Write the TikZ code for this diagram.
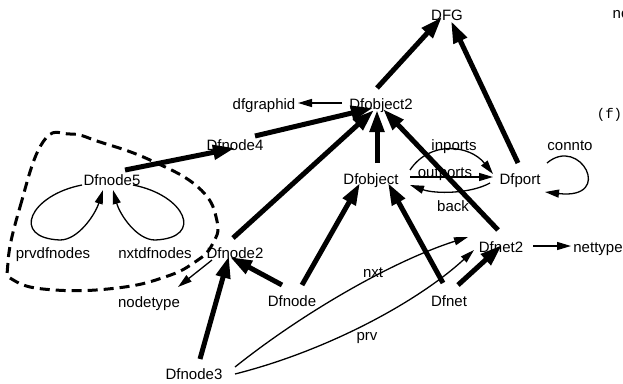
\documentclass[tikz,border=0pt]{standalone}
\usepackage{fontspec}
\setmainfont{Liberation Sans}
\setmonofont{Liberation Mono}
\usetikzlibrary{arrows.meta}
\begin{document}
\begin{tikzpicture}[x=1pt,y=-1pt,
  lbl/.style={inner sep=0pt, text height=11pt, text depth=0pt, font=\fontsize{15}{18}\selectfont},
  heavy/.style={line width=5pt, -{Triangle[length=22pt,width=14pt]}},
  light/.style={line width=1.3pt, -{Triangle[length=14pt,width=8pt]}},
  cluster/.style={line width=3pt, dash pattern=on 10pt off 6pt}]
\useasboundingbox (0,0) rectangle (623,383);

% class nodes
\node[lbl] (DFG)       at (447,15)  {DFG};
\node[lbl] (dfgraphid) at (264,104) {dfgraphid};
\node[lbl] (Dfobject2) at (381,104) {Dfobject2};
\node[lbl] (Dfnode4)   at (235,145) {Dfnode4};
\node[lbl] (Dfnode5)   at (112,180) {Dfnode5};
\node[lbl] (Dfobject)  at (371,179) {Dfobject};
\node[lbl] (Dfport)    at (520,179) {Dfport};
\node[lbl] (Dfnode2)   at (235,253) {Dfnode2};
\node[lbl] (Dfnet2)    at (501,247) {Dfnet2};
\node[lbl] (nettype)   at (598,247) {nettype};
\node[lbl] (nodetype)  at (149,302) {nodetype};
\node[lbl] (Dfnode)    at (292,301) {Dfnode};
\node[lbl] (Dfnet)     at (449,301) {Dfnet};
\node[lbl] (Dfnode3)   at (194,374) {Dfnode3};

% edge labels
\node[lbl] (lprvdf)   at (53,253)  {prvdfnodes};
\node[lbl] (lnxtdf)   at (155,253) {nxtdfnodes};
\node[lbl] (linports) at (454,145) {inports};
\node[lbl] (loutports) at (445,172) {outports};
\node[lbl] (lback)    at (453,206) {back};
\node[lbl] (lconnto)  at (570,145) {connto};
\node[lbl] (lnxt)     at (373,272) {nxt};
\node[lbl] (lprv)     at (367,335) {prv};

% text running off the right margin
\node[lbl, anchor=west] (topright) at (612.5,13) {no};
\node[inner sep=0pt, font=\ttfamily\fontsize{14}{16}\selectfont] (fig) at (609.5,115) {(f)};

% cluster outline
\draw[cluster] plot[smooth cycle, tension=0.75] coordinates {
  (8,262) (20,207) (43,142) (70,134) (100,142) (150,160) (199,188)
  (217,221) (212,245) (195,262) (165,277) (117,288) (55,290) (15,281)};

% inheritance edges
\draw[heavy] ([shift={(-4,-16)}]Dfobject2.center) -- ([shift={(-5,2)}]DFG.center);
\draw[heavy] ([shift={(-2,-16)}]Dfport.center) -- ([shift={(4,6)}]DFG.center);
\draw[heavy] ([shift={(20,-9)}]Dfnode4.center) -- ([shift={(-8,4)}]Dfobject2.center);
\draw[heavy] ([shift={(-2,-15)}]Dfnode2.center) -- ([shift={(-7,6)}]Dfobject2.center);
\draw[heavy] ([shift={(6,-16)}]Dfobject.center) -- ([shift={(-4,6)}]Dfobject2.center);
\draw[heavy] ([shift={(-3,-17)}]Dfnet2.center) -- ([shift={(2,5)}]Dfobject2.center);
\draw[heavy] ([shift={(13,-10)}]Dfnode5.center) -- ([shift={(0,3)}]Dfnode4.center);
\draw[heavy] ([shift={(6,-15)}]Dfnode3.center) -- ([shift={(-6,3)}]Dfnode2.center);
\draw[heavy] ([shift={(-10,-16)}]Dfnode.center) -- ([shift={(-5,4)}]Dfnode2.center);
\draw[heavy] ([shift={(10,-16)}]Dfnode.center) -- ([shift={(-11,4)}]Dfobject.center);
\draw[heavy] ([shift={(-6,-18)}]Dfnet.center) -- ([shift={(17,4)}]Dfobject.center);
\draw[heavy] ([shift={(9,-16)}]Dfnet.center) -- ([shift={(1,-2)}]Dfnet2.center);

% attribute edges
\draw[light] ([shift={(-39,-1)}]Dfobject2.center) -- ([shift={(34,-1)}]dfgraphid.center);
\draw[light] ([shift={(-23,7)}]Dfnode2.center) -- ([shift={(29,-15)}]nodetype.center);
\draw[light] ([shift={(32,-1)}]Dfnet2.center) -- ([shift={(-27,-1)}]nettype.center);
\draw[light] ([shift={(39,-9)}]Dfobject.center) .. controls (430,140) and (470,145) .. ([shift={(-27,-5)}]Dfport.center);
\draw[light] ([shift={(39,-2)}]Dfobject.center) -- ([shift={(-27,-2)}]Dfport.center);
\draw[light] ([shift={(-30,4)}]Dfport.center) .. controls (470,194) and (435,194) .. ([shift={(39,6)}]Dfobject.center);
\draw[light] ([shift={(27,-16)}]Dfport.center) .. controls (580,135) and (615,200) .. ([shift={(25,13)}]Dfport.center);
\draw[light] ([shift={(-30,5)}]Dfnode5.center) .. controls (30,195) and (10,238) .. (60,240)
  .. controls (78,240) and (95,215) .. ([shift={(-9,10)}]Dfnode5.center);
\draw[light] ([shift={(21,5)}]Dfnode5.center) .. controls (185,195) and (205,238) .. (155,240)
  .. controls (137,240) and (120,215) .. ([shift={(1,10)}]Dfnode5.center);
\draw[light] ([shift={(41,-7)}]Dfnode3.center) .. controls (300,315) and (390,262) .. ([shift={(-33,-10)}]Dfnet2.center);
\draw[light] ([shift={(41,0)}]Dfnode3.center) .. controls (330,350) and (420,300) .. ([shift={(-27,3)}]Dfnet2.center);
\end{tikzpicture}
\end{document}
